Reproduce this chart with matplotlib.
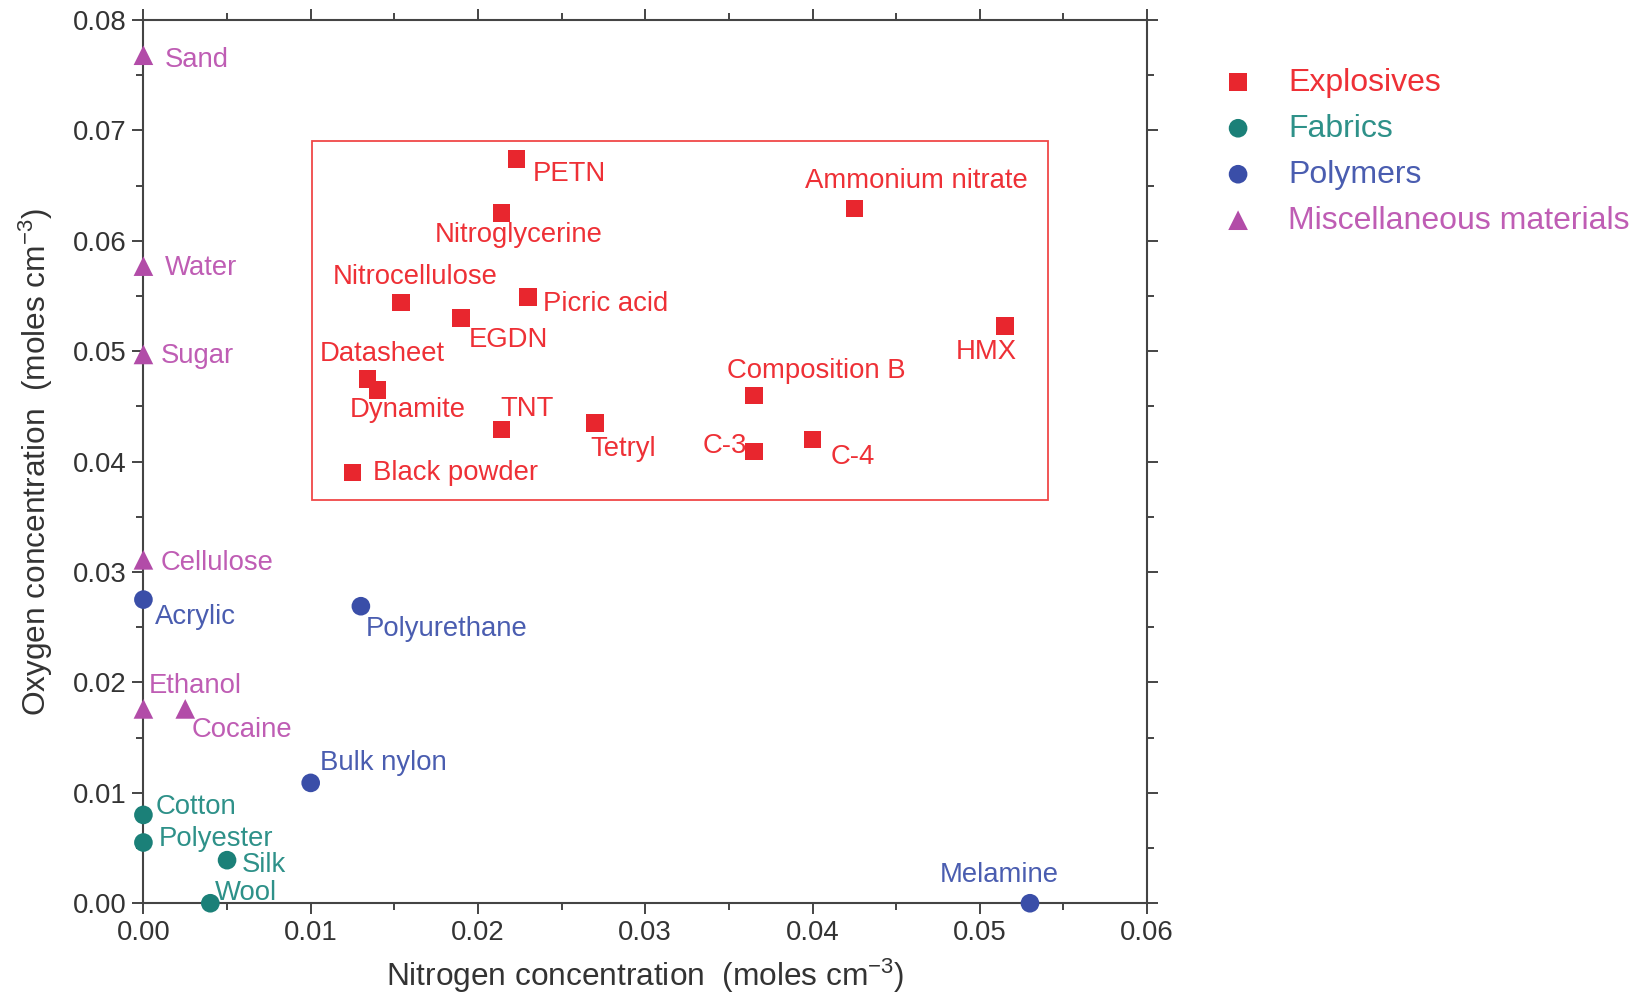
import matplotlib
matplotlib.use("Agg")
import matplotlib.pyplot as plt
from matplotlib.patches import Rectangle
from matplotlib.ticker import MultipleLocator, FormatStrFormatter

plt.rcParams['font.family'] = ['Liberation Sans', 'DejaVu Sans']
plt.rcParams['mathtext.fontset'] = 'custom'
plt.rcParams['mathtext.rm'] = 'Liberation Sans'
plt.rcParams['mathtext.it'] = 'Liberation Sans'

# --- data: nitrogen (x) and oxygen (y) concentrations, moles cm^-3 ---
expl_names = ["PETN", "Nitroglycerine", "Ammonium nitrate", "Nitrocellulose", "Picric acid",
              "EGDN", "HMX", "Datasheet", "Dynamite", "Composition B", "TNT", "Tetryl",
              "C-3", "C-4", "Black powder"]
expl_n = [0.0223, 0.0214, 0.0425, 0.0154, 0.0230, 0.0190, 0.0515, 0.0134, 0.0140,
          0.0365, 0.0214, 0.0270, 0.0365, 0.0400, 0.0125]
expl_o = [0.0674, 0.0625, 0.0629, 0.0544, 0.0549, 0.0530, 0.0523, 0.0475, 0.0465,
          0.0460, 0.0429, 0.0435, 0.0409, 0.0420, 0.0390]

fab_names = ["Cotton", "Polyester", "Silk", "Wool"]
fab_n = [0.0, 0.0, 0.0050, 0.0040]
fab_o = [0.0080, 0.0055, 0.0039, 0.0]

poly_names = ["Acrylic", "Polyurethane", "Bulk nylon", "Melamine"]
poly_n = [0.0, 0.0130, 0.0100, 0.0530]
poly_o = [0.0275, 0.0269, 0.0109, 0.0]

misc_names = ["Sand", "Water", "Sugar", "Cellulose", "Ethanol", "Cocaine"]
misc_n = [0.0, 0.0, 0.0, 0.0, 0.0, 0.0025]
misc_o = [0.0768, 0.0577, 0.0497, 0.0311, 0.0176, 0.0176]

# label offsets in pixels (dx, dy, horizontal alignment)
expl_off = [(16, -15, 'left'), (-67, -22, 'left'), (-49, 28, 'left'), (-68, 26, 'left'),
            (15, -7, 'left'), (8, -22, 'left'), (-49, -26, 'left'), (-48, 25, 'left'),
            (-28, -20, 'left'), (-27, 24, 'left'), (-1, 21, 'left'), (-5, -26, 'left'),
            (-51, 6, 'left'), (18, -18, 'left'), (20, 0, 'left')]
fab_off = [(12, 8, 'left'), (15, 4, 'left'), (15, -5, 'left'), (5, 10, 'left')]
poly_off = [(12, -17, 'left'), (5, -23, 'left'), (9, 20, 'left'), (-31, 28, 'center')]
misc_off = [(21, -5, 'left'), (21, -2, 'left'), (17, -2, 'left'), (17, -3, 'left'),
            (5, 23, 'left'), (6, -21, 'left')]

red, red_txt = '#E8262E', '#EE3036'
teal, teal_txt = '#1B8078', '#2E9189'
blue, blue_txt = '#3A4EA8', '#4A5DB0'
mag, mag_txt = '#B24CA8', '#BF5DB4'

fig = plt.figure(figsize=(16.41, 9.94), dpi=100)
ax = fig.add_axes([0.0874, 0.0913, 0.6116, 0.8887])

fs = 19.8
groups = [
    (expl_n, expl_o, expl_names, expl_off, 's', red, red_txt, 'Explosives', 160),
    (fab_n, fab_o, fab_names, fab_off, 'o', teal, teal_txt, 'Fabrics', 180),
    (poly_n, poly_o, poly_names, poly_off, 'o', blue, blue_txt, 'Polymers', 180),
    (misc_n, misc_o, misc_names, misc_off, '^', mag, mag_txt, 'Miscellaneous materials', 200),
]
handles = []
for xs, ys, names, offs, mk, col, tcol, lab, s in groups:
    h = ax.scatter(xs, ys, marker=mk, s=s, color=col, edgecolors='none',
                   zorder=4, clip_on=False, label=lab)
    handles.append(h)
    for x, y, name, (dx, dy, ha) in zip(xs, ys, names, offs):
        ax.annotate(name, (x, y), xytext=(dx, dy), textcoords='offset pixels',
                    ha=ha, va='center', fontsize=fs, color=tcol, zorder=5)

# red box around explosives
ax.add_patch(Rectangle((0.0101, 0.0365), 0.0440, 0.0325, fill=False,
                       edgecolor='#F04848', linewidth=1.3, zorder=2))

ax.set_xlim(0, 0.06)
ax.set_ylim(0, 0.08)
ax.xaxis.set_major_locator(MultipleLocator(0.01))
ax.xaxis.set_minor_locator(MultipleLocator(0.005))
ax.yaxis.set_major_locator(MultipleLocator(0.01))
ax.yaxis.set_minor_locator(MultipleLocator(0.005))
ax.xaxis.set_major_formatter(FormatStrFormatter('%.2f'))
ax.yaxis.set_major_formatter(FormatStrFormatter('%.2f'))

axcol = '#444444'
for sp in ax.spines.values():
    sp.set_color(axcol)
    sp.set_linewidth(1.5)
ax.tick_params(which='both', direction='out', top=True, right=True, color=axcol,
               width=1.4, labelsize=fs, labelcolor='#333333')
ax.tick_params(which='major', length=8, pad=4)
ax.tick_params(which='minor', length=5)

lfs = 22.8
ax.set_xlabel(r"Nitrogen concentration  (moles cm$^{-3}$)", fontsize=lfs, color='#333333', labelpad=8)
ax.set_ylabel(r"Oxygen concentration  (moles cm$^{-3}$)", fontsize=lfs, color='#333333', labelpad=13)

fig.legend(handles=handles, loc='upper left', bbox_to_anchor=(0.735, 0.948),
           frameon=False, fontsize=23, handlelength=1.0, handletextpad=1.06,
           borderpad=0, labelspacing=0.5,
           labelcolor=[red_txt, teal_txt, blue_txt, mag_txt])

fig.savefig('out.png', dpi=100, facecolor='white')
